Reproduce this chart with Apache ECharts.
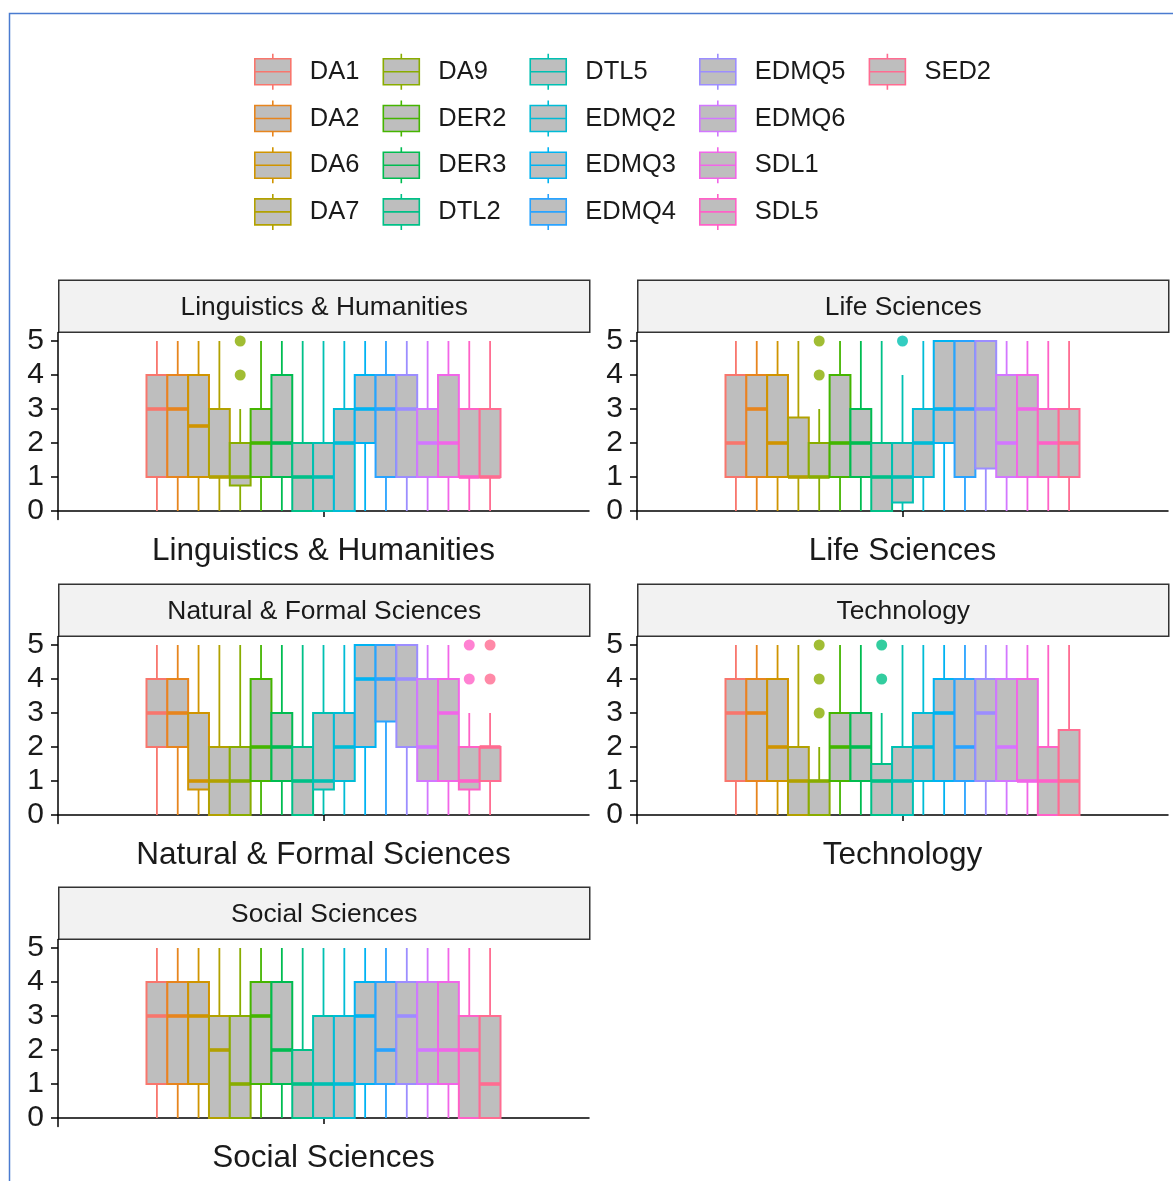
<!DOCTYPE html>
<html>
<head>
<meta charset="utf-8">
<script src="https://cdn.jsdelivr.net/npm/echarts@6/dist/echarts.min.js"></script>
<style>
  html, body { margin: 0; padding: 0; background: #ffffff; }
  #chart { width: 1173px; height: 1181px; }
</style>
</head>
<body>
<div id="chart"></div>
<script>
// Survey items, in legend / dodge order
const variables = ['DA1', 'DA2', 'DA6', 'DA7', 'DA9', 'DER2', 'DER3', 'DTL2', 'DTL5',
  'EDMQ2', 'EDMQ3', 'EDMQ4', 'EDMQ5', 'EDMQ6', 'SDL1', 'SDL5', 'SED2'];

// Discrete hue palette, one colour per item
const palette = ['#F8766D', '#E7851E', '#D09400', '#B2A100', '#89AC00', '#45B500', '#00BC51',
  '#00C087', '#00C0B2', '#00BCD6', '#00B3F2', '#29A3FF', '#9C8DFF', '#D277FF', '#F166E8',
  '#FF61C7', '#FF6C91'];

// Discipline facets
const facets = ['Linguistics & Humanities', 'Life Sciences', 'Natural & Formal Sciences',
  'Technology', 'Social Sciences'];

// Five-number summaries per item: [lower whisker, Q1, median, Q3, upper whisker]
const statsLinguistics = [
  [0, 1, 3, 4, 5], [0, 1, 3, 4, 5], [0, 1, 2.5, 4, 5], [0, 1, 1, 3, 5], [0, 0.75, 1, 2, 3],
  [0, 1, 2, 3, 5], [0, 1, 2, 4, 5], [0, 0, 1, 2, 5], [0, 0, 1, 2, 5], [0, 0, 2, 3, 5],
  [0, 2, 3, 4, 5], [0, 1, 3, 4, 5], [0, 1, 3, 4, 5], [0, 1, 2, 3, 5], [0, 1, 2, 4, 5],
  [0, 1, 1, 3, 5], [0, 1, 1, 3, 5]
];
const statsLife = [
  [0, 1, 2, 4, 5], [0, 1, 3, 4, 5], [0, 1, 2, 4, 5], [0, 1, 1, 2.75, 5], [0, 1, 1, 2, 3],
  [0, 1, 2, 4, 5], [0, 1, 2, 3, 5], [0, 0, 1, 2, 5], [0, 0.25, 1, 2, 4], [0, 1, 2, 3, 5],
  [0, 2, 3, 5, 5], [0, 1, 3, 5, 5], [0, 1.25, 3, 5, 5], [0, 1, 2, 4, 5], [0, 1, 3, 4, 5],
  [0, 1, 2, 3, 5], [0, 1, 2, 3, 5]
];
const statsNatural = [
  [0, 2, 3, 4, 5], [0, 2, 3, 4, 5], [0, 0.75, 1, 3, 5], [0, 0, 1, 2, 5], [0, 0, 1, 2, 5],
  [0, 1, 2, 4, 5], [0, 1, 2, 3, 5], [0, 0, 1, 2, 5], [0, 0.75, 1, 3, 5], [0, 1, 2, 3, 5],
  [0, 2, 4, 5, 5], [0, 2.75, 4, 5, 5], [0, 2, 4, 5, 5], [0, 1, 2, 4, 5], [0, 1, 3, 4, 5],
  [0, 0.75, 1, 2, 3], [0, 1, 2, 2, 3]
];
const statsTechnology = [
  [0, 1, 3, 4, 5], [0, 1, 3, 4, 5], [0, 1, 2, 4, 5], [0, 0, 1, 2, 5], [0, 0, 1, 1, 2],
  [0, 1, 2, 3, 5], [0, 1, 2, 3, 5], [0, 0, 1, 1.5, 3], [0, 0, 1, 2, 5], [0, 1, 2, 3, 5],
  [0, 1, 3, 4, 5], [0, 1, 2, 4, 5], [0, 1, 3, 4, 5], [0, 1, 2, 4, 5], [0, 1, 1, 4, 5],
  [0, 0, 1, 2, 5], [0, 0, 1, 2.5, 5]
];
const statsSocial = [
  [0, 1, 3, 4, 5], [0, 1, 3, 4, 5], [0, 1, 3, 4, 5], [0, 0, 2, 3, 5], [0, 0, 1, 3, 5],
  [0, 1, 3, 4, 5], [0, 1, 2, 4, 5], [0, 0, 1, 2, 5], [0, 0, 1, 3, 5], [0, 0, 1, 3, 5],
  [0, 1, 3, 4, 5], [0, 1, 2, 4, 5], [0, 1, 3, 4, 5], [0, 1, 2, 4, 5], [0, 1, 2, 4, 5],
  [0, 0, 2, 3, 5], [0, 0, 1, 3, 5]
];

// Outlying answers: [item index, value]
const outliersLinguistics = [[4, 4], [4, 5]];
const outliersLife = [[4, 4], [4, 5], [8, 5]];
const outliersNatural = [[15, 4], [15, 5], [16, 4], [16, 5]];
const outliersTechnology = [[4, 3], [4, 4], [4, 5], [7, 4], [7, 5]];
const outliersSocial = [];

// Likert scale ticks
const yTicks = [0, 1, 2, 3, 4, 5];

const facetStats = [statsLinguistics, statsLife, statsNatural, statsTechnology, statsSocial];
const facetOutliers = [outliersLinguistics, outliersLife, outliersNatural, outliersTechnology, outliersSocial];

// Panel placement (pixels)
const panelW = 531, panelH = 187, stripH = 52;
const panelPos = [
  { left: 58, top: 332.5 }, { left: 637, top: 332.5 },
  { left: 58, top: 636.5 }, { left: 637, top: 636.5 },
  { left: 58, top: 939.5 }
];

// Dodge geometry on the discrete axis (one category centred at 1)
const groupWidth = 0.8;
const boxW = groupWidth / variables.length;
const dodgeX = i => 1 - groupWidth / 2 + boxW * (i + 0.5);

const FONT = '"Liberation Sans", Arial, sans-serif';
const INK = '#1A1A1A';

function renderBox(params, api) {
  const x = api.value(0);
  const lo = api.value(1), q1 = api.value(2), med = api.value(3), q3 = api.value(4), hi = api.value(5);
  const tl = api.coord([x - boxW / 2, q3]);
  const br = api.coord([x + boxW / 2, q1]);
  const mid = api.coord([x, med]);
  const top = api.coord([x, hi]);
  const bot = api.coord([x, lo]);
  const color = api.visual('color');
  const children = [];
  if (hi > q3) children.push({ type: 'line', shape: { x1: mid[0], y1: top[1], x2: mid[0], y2: tl[1] }, style: { stroke: color, lineWidth: 1.8 } });
  if (lo < q1) children.push({ type: 'line', shape: { x1: mid[0], y1: br[1], x2: mid[0], y2: bot[1] }, style: { stroke: color, lineWidth: 1.8 } });
  children.push({ type: 'rect', shape: { x: tl[0], y: tl[1], width: br[0] - tl[0], height: br[1] - tl[1] }, style: { fill: '#BEBEBE', stroke: color, lineWidth: 2 } });
  children.push({ type: 'line', shape: { x1: tl[0], y1: mid[1], x2: br[0], y2: mid[1] }, style: { stroke: color, lineWidth: 3.6 } });
  return { type: 'group', children };
}

const grids = [], xAxes = [], yAxes = [], series = [], graphics = [];

facets.forEach((facet, p) => {
  const pos = panelPos[p];
  grids.push({ left: pos.left, top: pos.top, width: panelW, height: panelH, containLabel: false });

  // visible discrete axis carrying the facet name
  xAxes.push({
    type: 'category', gridIndex: p, data: [facet],
    axisLine: { show: true, lineStyle: { color: '#000', width: 1.5 } },
    axisTick: { show: true, alignWithLabel: true, length: 6, lineStyle: { color: '#000', width: 1.5 } },
    axisLabel: { fontSize: 31.5, color: INK, fontFamily: FONT, margin: 16 },
    splitLine: { show: false }
  });
  // hidden continuous axis used for dodging boxes inside the category
  xAxes.push({ type: 'value', gridIndex: p, min: 0.4, max: 1.6, show: false });

  yAxes.push({
    type: 'value', gridIndex: p, min: -0.25, max: 5.25,
    axisLine: { show: true, lineStyle: { color: '#000', width: 1.5 } },
    axisTick: { show: true, length: 7, customValues: yTicks, lineStyle: { color: '#000', width: 1.5 } },
    axisLabel: { customValues: yTicks, fontSize: 30, color: INK, fontFamily: FONT, margin: 14 },
    splitLine: { show: false }
  });

  variables.forEach((name, i) => {
    series.push({
      type: 'custom', name, xAxisIndex: 2 * p + 1, yAxisIndex: p,
      itemStyle: { color: palette[i], borderColor: palette[i] },
      renderItem: renderBox, silent: true,
      data: [[dodgeX(i)].concat(facetStats[p][i])]
    });
  });

  series.push({
    type: 'scatter', xAxisIndex: 2 * p + 1, yAxisIndex: p, symbolSize: 11, silent: true,
    data: facetOutliers[p].map(([vi, v]) => ({ value: [dodgeX(vi), v], itemStyle: { color: palette[vi] } }))
  });

  // facet strip
  graphics.push({
    type: 'group', left: pos.left, top: pos.top - stripH - 1,
    children: [
      { type: 'rect', shape: { x: 0, y: 0, width: panelW, height: stripH }, style: { fill: '#F2F2F2', stroke: '#333', lineWidth: 1.5 } },
      { type: 'text', x: panelW / 2, y: stripH / 2 + 1, style: { text: facet, font: '26.4px ' + FONT, fill: INK, align: 'center', verticalAlign: 'middle' } }
    ]
  });
});

// outer frame
graphics.push({ type: 'rect', left: 7, top: 11, shape: { x: 0, y: 0, width: 1300, height: 1300 }, style: { fill: 'none', stroke: '#4A7BD0', lineWidth: 1.5 }, z: 100 });

// legend key: whiskers, box and median; the leading move-to leaves room before the glyph
const keyIcon = 'path://M-14,18M18,0L18,5M0,5L36,5L36,31L0,31ZM0,18L36,18M18,31L18,36';

const option = {
  animation: false,
  textStyle: { fontFamily: FONT },
  legend: {
    orient: 'vertical', left: 240, top: 53, height: 195, padding: 0,
    itemWidth: 50, itemHeight: 36, itemGap: 9.1, selectedMode: false,
    textStyle: { fontSize: 25.5, lineHeight: 30, color: INK, fontFamily: FONT, padding: [0, 0, 0, 14] },
    data: variables.map((name, i) => ({
      name, icon: keyIcon,
      itemStyle: { color: '#BEBEBE', borderColor: palette[i], borderWidth: 1.6 }
    }))
  },
  grid: grids, xAxis: xAxes, yAxis: yAxes, series, graphic: graphics
};

echarts.init(document.getElementById('chart'), null, { renderer: 'canvas' }).setOption(option);
</script>
</body>
</html>
